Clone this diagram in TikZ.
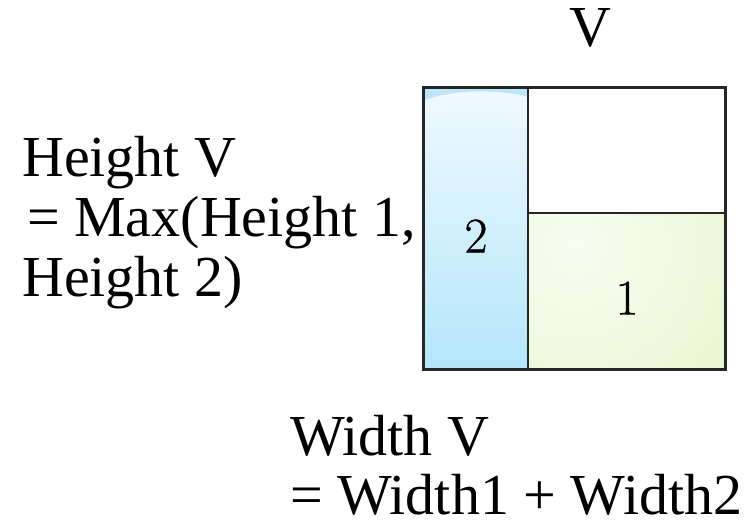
\documentclass[tikz,border=0pt]{standalone}
\usepackage{fontspec}
\setmainfont{Liberation Serif}
\newfontfamily\lmroman[FakeBold=0.8]{Latin Modern Roman}
\definecolor{blueTop}{HTML}{F0F9FE}
\definecolor{blueBot}{HTML}{B3E6FB}
\definecolor{blueCap}{HTML}{BDE6F8}
\definecolor{greenIn}{HTML}{F8FCF1}
\definecolor{greenOut}{HTML}{DDF3BA}
\begin{document}
\begin{tikzpicture}[x=1pt,y=-1pt,
    txt/.style={anchor=base west,inner sep=0pt,text depth=0pt,font=\fontsize{58}{60}\selectfont},
    num/.style={inner sep=0pt,font=\lmroman\fontsize{50}{54}\selectfont}]
    \useasboundingbox (0,0) rectangle (755,526);

    \shade[top color=blueTop,bottom color=blueBot] (423,88) rectangle (528,370);
    \fill[blueCap] (423,88) -- (528,88) -- (528,97)
    .. controls (500,89) and (450,89) .. (423,101) -- cycle;

    \begin{scope}
        \clip (528,213) rectangle (725,370);
        \fill[greenOut] (528,213) rectangle (725,370);
        \shade[inner color=greenIn,outer color=greenOut] (575,245) circle (330);
    \end{scope}

    \draw[line width=3pt,black!85] (423,88) rectangle (725,370);
    \draw[line width=2.5pt,black!85] (528,88) -- (528,370);
    \draw[line width=2.5pt,black!85] (528,213) -- (725,213);

    \node[num] (two) at (476,236) {2};
    \node[num] (one) at (627,298) {1};

    \node[txt,anchor=base] (topV) at (590,47) {V};

    \node[txt] (hgtA) at (22,177) {Height V};
    \node[txt] (hgtB) at (27,237) {= Max(Height 1,};
    \node[txt] (hgtC) at (22,297) {Height 2)};

    \node[txt] (widA) at (290,455) {Width V};
    \node[txt] (widB) at (290,514) {= Width1 + Width2};
\end{tikzpicture}
\end{document}
